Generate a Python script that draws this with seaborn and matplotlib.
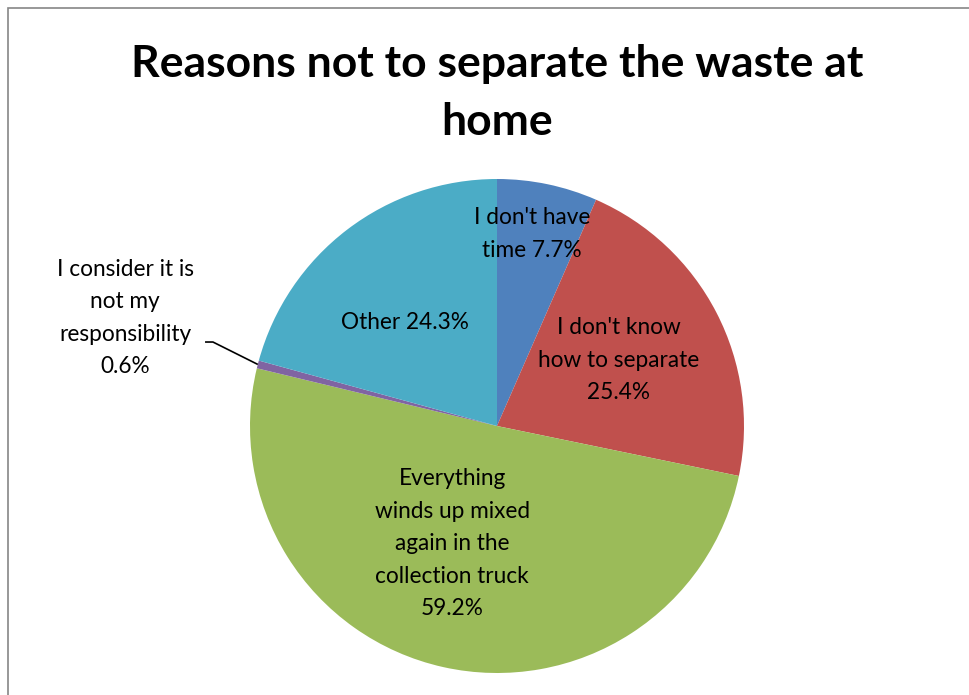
import numpy as np
import matplotlib
matplotlib.use("Agg")
import matplotlib.pyplot as plt
import seaborn as sns
from matplotlib.patches import Rectangle

sns.set_theme(style="white")
plt.rcParams["font.family"] = ["Lato", "DejaVu Sans"]

# Survey answers and their shares (%)
reasons = [
    "I don't have\ntime",
    "I don't know\nhow to separate",
    "Everything\nwinds up mixed\nagain in the\ncollection truck",
    "I consider it is\nnot my\nresponsibility",
    "Other",
]
shares = [7.7, 25.4, 59.2, 0.6, 24.3]
# whether the percentage goes on the same line as the name
inline_pct = [True, False, False, False, True]

colors = ["#4F81BD", "#C0504D", "#9BBB59", "#8064A2", "#4BACC6"]

# label placement: radial distance and angular nudge (degrees, clockwise)
label_r = [0.79, 0.56, 0.51, None, 0.56]
label_nudge = [-1.5, -1.0, 8.3, 0.0, -4.2]

W, H = 970, 695
fig = plt.figure(figsize=(W / 100, H / 100), dpi=100)

# chart-area frame (left and top edges visible)
fig.patches.append(Rectangle((8 / W, -0.05), 1.2, 1 - 8 / H + 0.05,
                             transform=fig.transFigure, fill=False,
                             edgecolor="#868686", linewidth=1.2))

cx, cy, R = 497, 426, 247
ax = fig.add_axes([(cx - R) / W, (H - cy - R) / H, 2 * R / W, 2 * R / H])
wedges, _ = ax.pie(shares, colors=colors, startangle=90, counterclock=False,
                   radius=1.0, wedgeprops=dict(linewidth=0))
ax.set_xlim(-1, 1)
ax.set_ylim(-1, 1)
ax.set_aspect("equal")
ax.axis("off")

total = sum(shares)
cum = np.cumsum([0] + shares)
fs = 16.3
ls = 1.68
for i, (name, val) in enumerate(zip(reasons, shares)):
    mid = (cum[i] + cum[i + 1]) / 2 / total * 360  # clockwise from top
    text = f"{name} {val}%" if inline_pct[i] else f"{name}\n{val}%"
    if label_r[i] is None:
        # small slice: label outside with a leader line
        ex, ey = np.sin(np.radians(mid)), np.cos(np.radians(mid))
        tx, ty = -1.506, 0.437
        ax.text(tx, ty, text, ha="center", va="center", fontsize=fs,
                linespacing=ls, color="black", clip_on=False)
        ax.plot([-1.182, -1.150, ex], [0.340, 0.340, ey], color="black",
                lw=1.2, clip_on=False, solid_capstyle="butt")
        continue
    a = np.radians(mid + label_nudge[i])
    r = label_r[i]
    ax.text(r * np.sin(a), r * np.cos(a), text, ha="center", va="center",
            fontsize=fs, linespacing=ls, color="black")

fig.text(497 / W, 1 - 93 / H, "Reasons not to separate the waste at\nhome",
         ha="center", va="center", fontsize=32, fontweight="bold",
         linespacing=1.55, color="black")

fig.savefig("out.png", dpi=100, facecolor="white")
